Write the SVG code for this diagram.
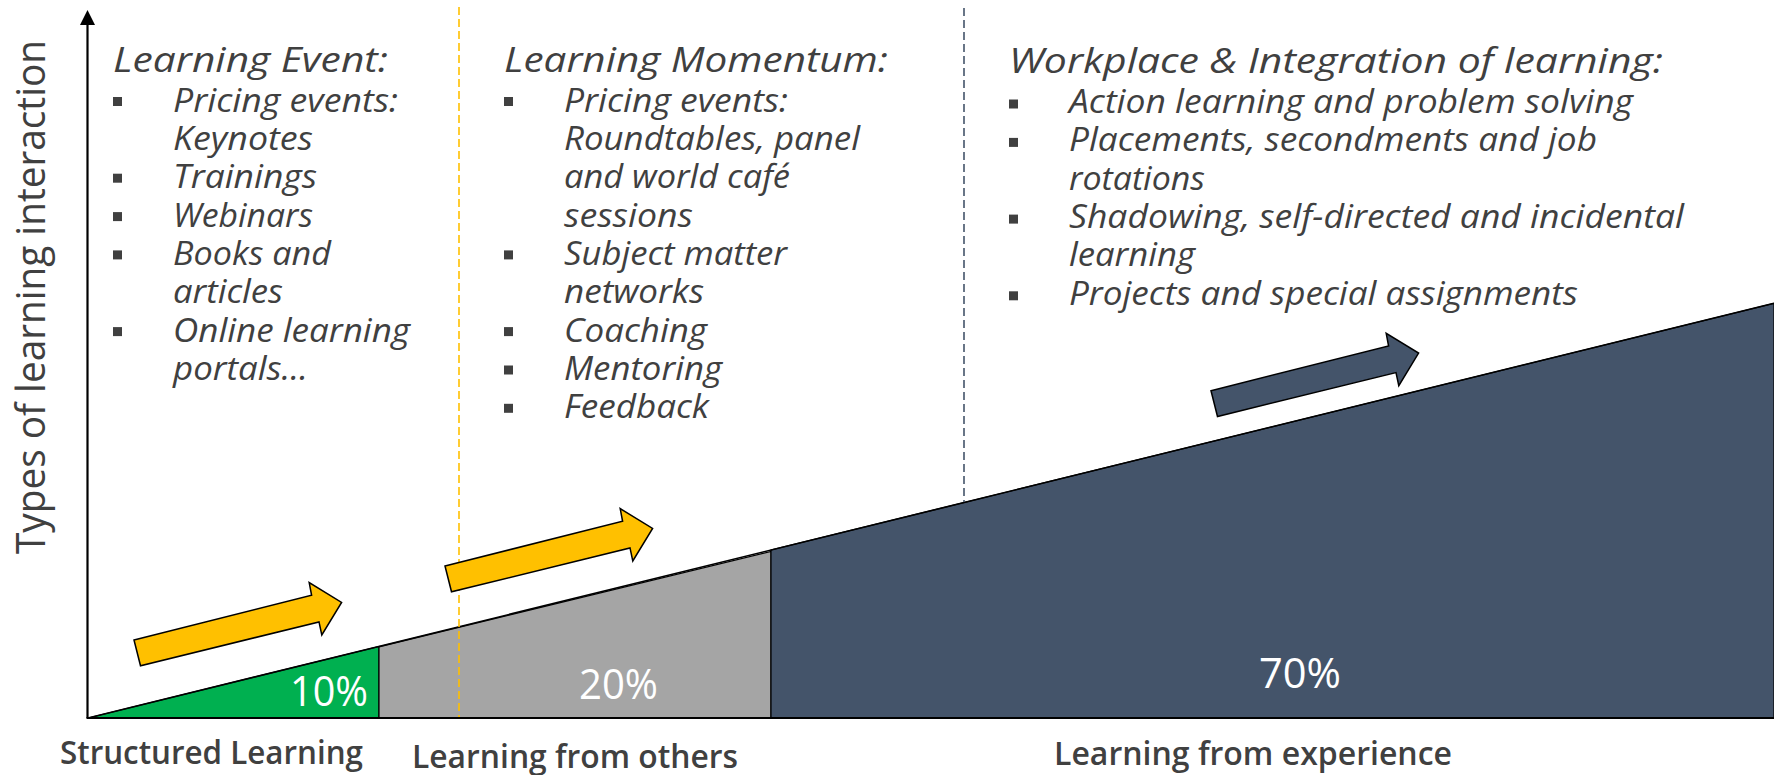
<svg xmlns="http://www.w3.org/2000/svg" xmlns:xlink="http://www.w3.org/1999/xlink" width="1774" height="775" viewBox="0 0 1774 775">
  <style>
    .t { font-family: "Open Sans", "Noto Sans", "Liberation Sans", sans-serif; fill: #404040; }
    .it { font-style: italic; font-size: 32px; }
    .hd { font-style: italic; font-size: 35px; }
    .ylab { font-size: 40px; }
    .cat { font-size: 32px; font-weight: 600; }
    .pct { font-size: 42px; fill: #ffffff; }
    .bul { fill: #404040; }
    .band { stroke: #000000; stroke-width: 1.2; stroke-linejoin: miter; }
    .fat { stroke: #000000; stroke-width: 1.5; stroke-linejoin: miter; }
  </style>
  <defs>
    <!-- block arrow, origin at the upper tail corner -->
    <path id="fat-arrow" d="M0,0 L177.6,-44.7 L175.2,-57.4 L207.6,-37.6 L187.8,-5 L185,-18.1 L6.5,25.8 Z"/>
    <rect id="sq" width="9" height="9"/>
  </defs>

  <rect width="1774" height="775" fill="#ffffff"/>

  <!-- 10 / 20 / 70 bands under the rising line -->
  <g id="band-structured">
    <polygon class="band" fill="#00b050" points="88,718 379,646.4 379,718"/>
    <text class="t pct" x="368" y="706" text-anchor="end" textLength="78" lengthAdjust="spacingAndGlyphs">10%</text>
  </g>
  <g id="band-others">
    <polygon class="band" fill="#a5a5a5" points="379,718 379,646.8 771,551.5 771,718"/>
    <text class="t pct" x="618.5" y="699" text-anchor="middle" textLength="79" lengthAdjust="spacingAndGlyphs">20%</text>
  </g>
  <g id="band-experience">
    <polygon class="band" fill="#44546a" points="771,718 771,550 1774,303.3 1774,718"/>
    <text class="t pct" x="1300" y="688" text-anchor="middle" textLength="82" lengthAdjust="spacingAndGlyphs">70%</text>
  </g>

  <g id="connectors">
    <!-- rising line -->
    <line x1="88" y1="718" x2="1774" y2="303.3" stroke="#000000" stroke-width="1.6"/>
    <!-- phase separators -->
    <line x1="459" y1="7" x2="459" y2="718" stroke="#ffc000" stroke-width="1.6" stroke-dasharray="8,4"/>
    <line x1="964" y1="8" x2="964" y2="502" stroke="#44546a" stroke-width="1.6" stroke-dasharray="8,4"/>
    <!-- axes -->
    <line x1="87.5" y1="24" x2="87.5" y2="718" stroke="#000000" stroke-width="2.2"/>
    <polygon points="80,25 87.5,10 95,25" fill="#000000"/>
    <line x1="86.5" y1="718" x2="1774" y2="718" stroke="#000000" stroke-width="2"/>
  </g>

  <g id="trend-arrows">
    <use xlink:href="#fat-arrow" class="fat" fill="#ffc000" transform="translate(134,640)"/>
    <use xlink:href="#fat-arrow" class="fat" fill="#ffc000" transform="translate(445,566)"/>
    <use xlink:href="#fat-arrow" class="fat" fill="#44546a" transform="translate(1211,390.7)"/>
  </g>

  <g id="axis-label">
    <text class="t ylab" transform="translate(45,554) rotate(-90)" textLength="514" lengthAdjust="spacingAndGlyphs">Types of learning interaction</text>
  </g>

  <!-- column 1 -->
  <g id="learning-event">
    <use xlink:href="#sq" class="bul" x="113" y="97"/>
    <use xlink:href="#sq" class="bul" x="113" y="173.7"/>
    <use xlink:href="#sq" class="bul" x="113" y="212.1"/>
    <use xlink:href="#sq" class="bul" x="113" y="250.4"/>
    <use xlink:href="#sq" class="bul" x="113" y="327.1"/>
    <text class="t it"><tspan class="hd" x="113" y="71.5" textLength="275" lengthAdjust="spacingAndGlyphs">Learning Event:</tspan><tspan x="173" y="111.5" textLength="225" lengthAdjust="spacingAndGlyphs">Pricing events:</tspan><tspan x="173" y="149.9" textLength="140" lengthAdjust="spacingAndGlyphs">Keynotes</tspan><tspan x="173" y="188.2" textLength="144" lengthAdjust="spacingAndGlyphs">Trainings</tspan><tspan x="173" y="226.6" textLength="140" lengthAdjust="spacingAndGlyphs">Webinars</tspan><tspan x="173" y="264.9" textLength="158" lengthAdjust="spacingAndGlyphs">Books and</tspan><tspan x="173" y="303.3" textLength="110" lengthAdjust="spacingAndGlyphs">articles</tspan><tspan x="173" y="341.6" textLength="237" lengthAdjust="spacingAndGlyphs">Online learning</tspan><tspan x="173" y="380" textLength="135" lengthAdjust="spacingAndGlyphs">portals…</tspan></text>
  </g>

  <!-- column 2 -->
  <g id="learning-momentum">
    <use xlink:href="#sq" class="bul" x="504" y="97"/>
    <use xlink:href="#sq" class="bul" x="504" y="250.4"/>
    <use xlink:href="#sq" class="bul" x="504" y="327.1"/>
    <use xlink:href="#sq" class="bul" x="504" y="365.5"/>
    <use xlink:href="#sq" class="bul" x="504" y="403.8"/>
    <text class="t it"><tspan class="hd" x="504" y="71.5" textLength="384" lengthAdjust="spacingAndGlyphs">Learning Momentum:</tspan><tspan x="564" y="111.5" textLength="224" lengthAdjust="spacingAndGlyphs">Pricing events:</tspan><tspan x="564" y="149.9" textLength="296" lengthAdjust="spacingAndGlyphs">Roundtables, panel</tspan><tspan x="564" y="188.2" textLength="226" lengthAdjust="spacingAndGlyphs">and world café</tspan><tspan x="564" y="226.6" textLength="129" lengthAdjust="spacingAndGlyphs">sessions</tspan><tspan x="564" y="264.9" textLength="223" lengthAdjust="spacingAndGlyphs">Subject matter</tspan><tspan x="564" y="303.3" textLength="140" lengthAdjust="spacingAndGlyphs">networks</tspan><tspan x="564" y="341.6" textLength="143" lengthAdjust="spacingAndGlyphs">Coaching</tspan><tspan x="564" y="380" textLength="158" lengthAdjust="spacingAndGlyphs">Mentoring</tspan><tspan x="564" y="418.3" textLength="145" lengthAdjust="spacingAndGlyphs">Feedback</tspan></text>
  </g>

  <!-- column 3 -->
  <g id="workplace-integration">
    <use xlink:href="#sq" class="bul" x="1009" y="99.5"/>
    <use xlink:href="#sq" class="bul" x="1009" y="137.9"/>
    <use xlink:href="#sq" class="bul" x="1009" y="214.6"/>
    <use xlink:href="#sq" class="bul" x="1009" y="291.3"/>
    <text class="t it"><tspan class="hd" x="1009" y="73" textLength="654" lengthAdjust="spacingAndGlyphs">Workplace &amp; Integration of learning:</tspan><tspan x="1069" y="113" textLength="564" lengthAdjust="spacingAndGlyphs">Action learning and problem solving</tspan><tspan x="1069" y="151.4" textLength="528" lengthAdjust="spacingAndGlyphs">Placements, secondments and job</tspan><tspan x="1069" y="189.7" textLength="136" lengthAdjust="spacingAndGlyphs">rotations</tspan><tspan x="1069" y="228.1" textLength="615" lengthAdjust="spacingAndGlyphs">Shadowing, self-directed and incidental</tspan><tspan x="1069" y="266.4" textLength="126" lengthAdjust="spacingAndGlyphs">learning</tspan><tspan x="1069" y="304.8" textLength="509" lengthAdjust="spacingAndGlyphs">Projects and special assignments</tspan></text>
  </g>

  <!-- categories along the base -->
  <g id="category-labels">
    <text class="t cat" x="60" y="764" textLength="303" lengthAdjust="spacingAndGlyphs">Structured Learning</text>
    <text class="t cat" x="412" y="768" textLength="326" lengthAdjust="spacingAndGlyphs">Learning from others</text>
    <text class="t cat" x="1054" y="765" textLength="398" lengthAdjust="spacingAndGlyphs">Learning from experience</text>
  </g>
</svg>
